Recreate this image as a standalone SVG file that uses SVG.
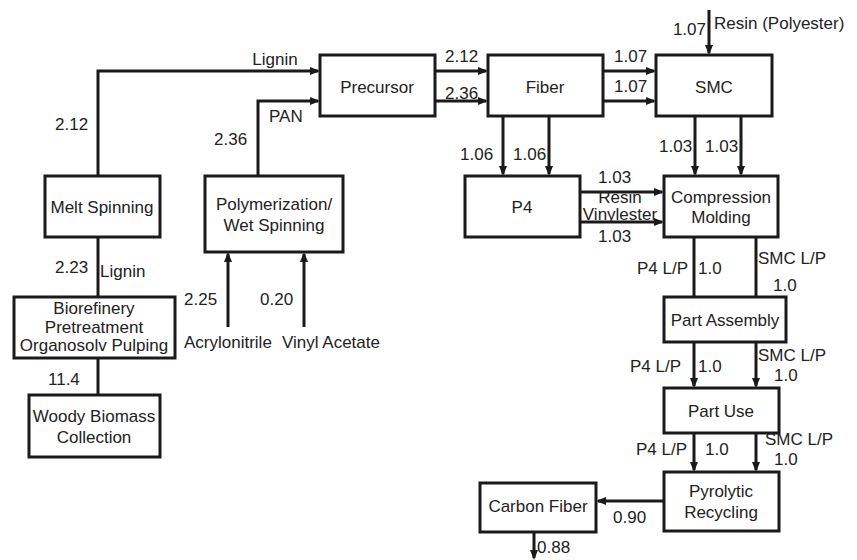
<svg xmlns="http://www.w3.org/2000/svg" width="857" height="560" viewBox="0 0 857 560">
<style>
.box{fill:#fff;stroke:#1a1a1a;stroke-width:3}
.ln{fill:none;stroke:#1a1a1a;stroke-width:3}
.ar{fill:none;stroke:#1a1a1a;stroke-width:3;marker-end:url(#ah)}
text{font-family:"Liberation Sans",Arial,sans-serif;font-size:17px;fill:#222}
.c{text-anchor:middle}
.r{text-anchor:end}
</style>
<defs>
<marker id="ah" markerUnits="userSpaceOnUse" markerWidth="11" markerHeight="10" refX="8" refY="5" orient="auto">
<path d="M0,1 L10,5 L0,9 z" fill="#1a1a1a"/>
</marker>
</defs>
<rect width="857" height="560" fill="#fff"/>
<g id="connectors">
<path class="ar" d="M98,176 V71 H318"/>
<path class="ar" d="M258,176 V101 H318"/>
<path class="ln" d="M98,237 V297"/>
<path class="ln" d="M98,358 V395"/>
<path class="ar" d="M228,327 V254"/>
<path class="ar" d="M304,327 V254"/>
<path class="ar" d="M435,71 H486"/>
<path class="ar" d="M435,101 H486"/>
<path class="ar" d="M603,71 H654"/>
<path class="ar" d="M603,101 H654"/>
<path class="ar" d="M709,10 V53"/>
<path class="ar" d="M503,116 V174"/>
<path class="ar" d="M549,116 V174"/>
<path class="ar" d="M695,116 V174"/>
<path class="ar" d="M741,116 V174"/>
<path class="ar" d="M580,192 H662"/>
<path class="ar" d="M580,222 H662"/>
<path class="ln" d="M694,237 V297"/>
<path class="ln" d="M756,237 V297"/>
<path class="ar" d="M694,342 V386"/>
<path class="ar" d="M756,342 V386"/>
<path class="ar" d="M694,433 V470"/>
<path class="ar" d="M756,433 V470"/>
<path class="ar" d="M664,501 H598"/>
<path class="ar" d="M534,532 V558"/>
</g>
<g id="labels">
<text x="275" y="65" class="c">Lignin</text>
<text x="55" y="130">2.12</text>
<text x="269" y="122">PAN</text>
<text x="214" y="145">2.36</text>
<text x="55" y="273">2.23</text>
<text x="100" y="277">Lignin</text>
<text x="48" y="385">11.4</text>
<text x="184" y="305">2.25</text>
<text x="260" y="305">0.20</text>
<text x="184" y="348">Acrylonitrile</text>
<text x="282" y="348">Vinyl Acetate</text>
<text x="445" y="62">2.12</text>
<text x="445" y="99">2.36</text>
<text x="614" y="62">1.07</text>
<text x="614" y="92">1.07</text>
<text x="706" y="35" class="r">1.07</text>
<text x="714" y="29">Resin (Polyester)</text>
<text x="460" y="160">1.06</text>
<text x="513" y="160">1.06</text>
<text x="659" y="152">1.03</text>
<text x="705" y="152">1.03</text>
<text x="598" y="183">1.03</text>
<text x="620" y="203" class="c">Resin</text>
<text x="620" y="220" class="c">Vinylester</text>
<text x="598" y="242">1.03</text>
<text x="688" y="274" class="r">P4 L/P</text>
<text x="698" y="274">1.0</text>
<text x="758" y="264">SMC L/P</text>
<text x="773" y="291">1.0</text>
<text x="681" y="372" class="r">P4 L/P</text>
<text x="698" y="372">1.0</text>
<text x="758" y="361">SMC L/P</text>
<text x="774" y="381">1.0</text>
<text x="687" y="455" class="r">P4 L/P</text>
<text x="705" y="455">1.0</text>
<text x="765" y="445">SMC L/P</text>
<text x="774" y="465">1.0</text>
<text x="613" y="523">0.90</text>
<text x="537" y="553">0.88</text>
</g>
<g id="precursor"><rect class="box" x="320" y="55" width="115" height="61"/><text x="377" y="93" class="c">Precursor</text></g>
<g id="fiber"><rect class="box" x="488" y="55" width="115" height="61"/><text x="545" y="93" class="c">Fiber</text></g>
<g id="smc"><rect class="box" x="656" y="55" width="116" height="61"/><text x="714" y="93" class="c">SMC</text></g>
<g id="melt"><rect class="box" x="45" y="176" width="115" height="61"/><text x="102" y="213" class="c">Melt Spinning</text></g>
<g id="poly"><rect class="box" x="205" y="176" width="138" height="76"/><text x="274" y="210" class="c">Polymerization/</text><text x="274" y="231" class="c">Wet Spinning</text></g>
<g id="biorefinery"><rect class="box" x="14" y="297" width="161" height="61"/><text x="94" y="314" class="c">Biorefinery</text><text x="94" y="333" class="c">Pretreatment</text><text x="94" y="351" class="c">Organosolv Pulping</text></g>
<g id="woody"><rect class="box" x="29" y="395" width="131" height="62"/><text x="94" y="422" class="c">Woody Biomass</text><text x="94" y="443" class="c">Collection</text></g>
<g id="p4"><rect class="box" x="465" y="176" width="115" height="61"/><text x="522" y="213" class="c">P4</text></g>
<g id="cm"><rect class="box" x="664" y="176" width="114" height="61"/><text x="721" y="203" class="c">Compression</text><text x="721" y="223" class="c">Molding</text></g>
<g id="assembly"><rect class="box" x="664" y="297" width="122" height="45"/><text x="725" y="326" class="c">Part Assembly</text></g>
<g id="use"><rect class="box" x="664" y="388" width="115" height="45"/><text x="721" y="417" class="c">Part Use</text></g>
<g id="pyro"><rect class="box" x="664" y="472" width="115" height="59"/><text x="721" y="497" class="c">Pyrolytic</text><text x="721" y="518" class="c">Recycling</text></g>
<g id="cf"><rect class="box" x="480" y="483" width="116" height="49"/><text x="538" y="512" class="c">Carbon Fiber</text></g>
</svg>
